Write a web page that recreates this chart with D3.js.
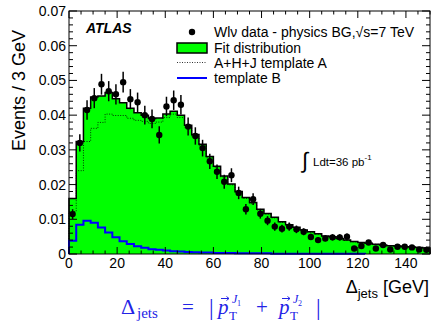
<!DOCTYPE html>
<html><head><meta charset="utf-8">
<script src="https://cdn.jsdelivr.net/npm/d3@7"></script>
<style>body{margin:0;background:#fff}svg{display:block}text{font-family:"Liberation Sans",Arial,sans-serif}</style>
</head><body><svg id="c" width="431" height="322"></svg>
<script>
const binEdges = d3.range(0, 151, 3);
const dataVals = [0.0115,0.0320,0.0415,0.0449,0.0489,0.0469,0.0460,0.0495,0.0446,0.0437,
 0.0400,0.0389,0.0343,0.0425,0.0443,0.0430,0.0367,0.0340,0.0305,0.0267,
 0.0237,0.0208,0.0227,0.0176,0.0129,0.0158,0.0116,0.0096,0.0079,0.0073,
 0.0079,0.0071,0.0064,0.0049,0.0040,0.0045,0.0048,0.0048,0.0050,0.0016,
 0.0023,0.0033,0.0016,0.0026,0.0013,0.0021,0.0021,0.0019,0.0013,0.0012];
const dataErr = [0.0014,0.0025,0.0028,0.0029,0.0030,0.0029,0.0029,0.0030,0.0029,0.0028,
 0.0027,0.0027,0.0025,0.0028,0.0028,0.0028,0.0026,0.0025,0.0024,0.0022,
 0.0021,0.0020,0.0020,0.0018,0.0015,0.0017,0.0014,0.0013,0.0012,0.0011,
 0.0012,0.0011,0.0010,0.0009,0.0008,0.0009,0.0009,0.0009,0.0009,0.0005,
 0.0006,0.0007,0.0005,0.0006,0.0005,0.0006,0.0006,0.0005,0.0005,0.0005];
const fitVals = [0.0160,0.0324,0.0420,0.0452,0.0455,0.0465,0.0447,0.0436,0.0420,0.0407,
 0.0400,0.0390,0.0392,0.0403,0.0411,0.0400,0.0371,0.0344,0.0316,0.0281,
 0.0253,0.0225,0.0202,0.0180,0.0163,0.0148,0.0129,0.0117,0.0106,0.0093,
 0.0084,0.0077,0.0069,0.0064,0.0058,0.0052,0.0050,0.0045,0.0040,0.0036,
 0.0033,0.0031,0.0028,0.0026,0.0024,0.0023,0.0021,0.0020,0.0019,0.0017];
const templA = [0.0122,0.0240,0.0324,0.0362,0.0379,0.0403,0.0399,0.0399,0.0391,0.0385,
 0.0382,0.0376,0.0380,0.0393,0.0403,0.0393,0.0365,0.0339,0.0312,0.0277,
 0.0250,0.0222,0.0199,0.0177,0.0160,0.0145,0.0127,0.0115,0.0104,0.0091,
 0.0082,0.0075,0.0068,0.0063,0.0057,0.0051,0.0049,0.0044,0.0039,0.0035,
 0.0032,0.0031,0.0028,0.0026,0.0024,0.0023,0.0021,0.0020,0.0019,0.0017];
const templB = [0.0038,0.0084,0.0096,0.0090,0.0076,0.0062,0.0048,0.0037,0.0029,0.0022,
 0.0018,0.0014,0.0012,0.0010,0.0008,0.0007,0.0006,0.0005,0.0004,0.0004,
 0.0003,0.0003,0.0003,0.0002,0.0002,0.0002,0.0002,0.0002,0.0001,0.0001,
 0.0001,0.0001,0.0001,0.0001,0.0001,0.0001,0.0001,0.0001,0.0001,0.0001,
 0.0001,0,0,0,0,0,0,0,0,0];
const xTickVals = [0,20,40,60,80,100,120,140];
const yTickVals = [0,0.01,0.02,0.03,0.04,0.05,0.06,0.07];
const yTickLabels = ["0","0.01","0.02","0.03","0.04","0.05","0.06","0.07"];
const legendLabels = ["Wl\u03bd data - physics BG,\u221as=7 TeV","Fit distribution","A+H+J template A","template B"];

const svg = d3.select("#c");
const L = 69, R = 430, T = 11, B = 254;
const x = d3.scaleLinear().domain([0,150]).range([L,R]);
const y = d3.scaleLinear().domain([0,0.07]).range([B,T]);

function stepPath(vals, closeBottom, upto) {
  const n = upto == null ? vals.length : upto;
  let p = "M" + x(binEdges[0]) + "," + y(0);
  for (let i = 0; i < n; i++) {
    p += "L" + x(binEdges[i]) + "," + y(vals[i]) + "L" + x(binEdges[i+1]) + "," + y(vals[i]);
  }
  p += "L" + x(binEdges[n]) + "," + y(0);
  if (closeBottom) p += "Z";
  return p;
}
svg.append("path").attr("d", stepPath(fitVals, true)).attr("fill", "#00ff00").attr("stroke", "none");
svg.append("path").attr("d", stepPath(fitVals, false)).attr("fill", "none").attr("stroke", "#000").attr("stroke-width", 1.5);
svg.append("path").attr("d", stepPath(templA, false)).attr("fill", "none").attr("stroke", "#000").attr("stroke-width", 0.8).attr("stroke-dasharray", "1,1.5");
let lastB = templB.length; while (lastB > 0 && templB[lastB-1] === 0) lastB--;
svg.append("path").attr("d", stepPath(templB, false, lastB)).attr("fill", "none").attr("stroke", "#0000ff").attr("stroke-width", 2);

const centers = dataVals.map((v,i) => (binEdges[i]+binEdges[i+1])/2);
const pts = svg.append("g");
dataVals.forEach((v,i) => {
  pts.append("line").attr("x1", x(centers[i])).attr("x2", x(centers[i]))
    .attr("y1", y(v - dataErr[i])).attr("y2", y(v + dataErr[i])).attr("stroke", "#000").attr("stroke-width", 1.5);
  pts.append("circle").attr("cx", x(centers[i])).attr("cy", y(v)).attr("r", 3.2).attr("fill", "#000");
});

const ax = svg.append("g").attr("stroke", "#000").attr("stroke-width", 1);
ax.append("rect").attr("x", L).attr("y", T).attr("width", R - L).attr("height", B - T).attr("fill", "none");
x.ticks(30).forEach(t => {
  const major = t % 20 === 0;
  const len = major ? 7 : 3.5;
  ax.append("line").attr("x1", x(t)).attr("x2", x(t)).attr("y1", B).attr("y2", B - len);
  ax.append("line").attr("x1", x(t)).attr("x2", x(t)).attr("y1", T).attr("y2", T + len);
});
d3.range(0, 0.0701, 0.002).forEach(t => {
  const major = Math.abs(Math.round(t*100) - t*100) < 1e-6;
  const len = major ? 8 : 4;
  ax.append("line").attr("x1", L).attr("x2", L + len).attr("y1", y(t)).attr("y2", y(t));
  ax.append("line").attr("x1", R).attr("x2", R - len).attr("y1", y(t)).attr("y2", y(t));
});
svg.append("g").selectAll("text").data(xTickVals).join("text")
  .attr("x", d => x(d)).attr("y", 268).attr("text-anchor", "middle").attr("font-size", 14).text(d => d);
svg.append("g").selectAll("text").data(yTickVals).join("text")
  .attr("x", 66).attr("y", d => y(d) + 5).attr("text-anchor", "end").attr("font-size", 14)
  .text((d,i) => yTickLabels[i]);

svg.append("text").attr("transform", "translate(25,30) rotate(-90)").attr("text-anchor", "end")
  .attr("font-size", 18).text("Events / 3 GeV");
const xt = svg.append("text").attr("x", 429).attr("y", 293).attr("text-anchor", "end").attr("font-size", 18);
xt.append("tspan").text("\u0394");
xt.append("tspan").attr("font-size", 13).attr("dy", 5).text("jets");
xt.append("tspan").attr("dy", -5).text(" [GeV]");

svg.append("text").attr("x", 86).attr("y", 33).attr("font-size", 14).attr("font-weight", "bold").attr("font-style", "italic").text("ATLAS");

const lg = svg.append("g");
const rowsY = [32, 48, 63, 78];
lg.append("circle").attr("cx", 192).attr("cy", rowsY[0]).attr("r", 3.2).attr("fill", "#000");
lg.append("rect").attr("x", 177).attr("y", 43).attr("width", 30).attr("height", 10).attr("fill", "#00ff00").attr("stroke", "#000").attr("stroke-width", 1.5);
lg.append("line").attr("x1", 177).attr("x2", 207).attr("y1", 62.5).attr("y2", 62.5).attr("stroke", "#000").attr("stroke-width", 0.8).attr("stroke-dasharray", "1,1.5");
lg.append("line").attr("x1", 177).attr("x2", 207).attr("y1", 78).attr("y2", 78).attr("stroke", "#0000ff").attr("stroke-width", 2);
legendLabels.forEach((s,i) => {
  lg.append("text").attr("x", 214).attr("y", rowsY[i] + 5).attr("font-size", 14).text(s);
});

svg.append("text").attr("x", 302).attr("y", 168).attr("font-size", 22).attr("font-family", "DejaVu Sans").text("\u222b");
const lum = svg.append("text").attr("x", 313).attr("y", 166).attr("font-size", 11.5);
lum.append("tspan").text("Ldt=36 pb");
lum.append("tspan").attr("font-size", 8).attr("dy", -6).text("-1");

// formula
const blue = "#2323e6";
const f = svg.append("text").attr("fill", blue)
  .style("font-family", "'Liberation Serif','DejaVu Serif',serif");
function ft(xp, yp, size, s, italic) {
  const t = f.append("tspan").attr("x", xp).attr("y", yp).attr("font-size", size).text(s);
  if (italic) t.attr("font-style", "italic");
  return t;
}
ft(121, 314, 22, "\u0394");
ft(137, 318, 15, "jets");
ft(182, 314, 21, "=");
ft(209, 315, 23, "|");
ft(218, 314, 21, "p", true);
ft(229, 320, 13, "T");
ft(232, 303, 12, "J", true);
ft(237, 306, 8, "1");
ft(256, 314, 21, "+");
ft(279, 314, 21, "p", true);
ft(290, 320, 13, "T");
ft(293, 303, 12, "J", true);
ft(298, 306, 8, "2");
ft(316, 315, 23, "|");
// vector arrows over p
[221, 282].forEach(ax0 => {
  svg.append("path").attr("d", `M${ax0},298.5H${ax0+8}M${ax0+5.5},296.5L${ax0+8},298.5L${ax0+5.5},300.5`)
    .attr("fill", "none").attr("stroke", blue).attr("stroke-width", 1);
});
</script></body></html>
